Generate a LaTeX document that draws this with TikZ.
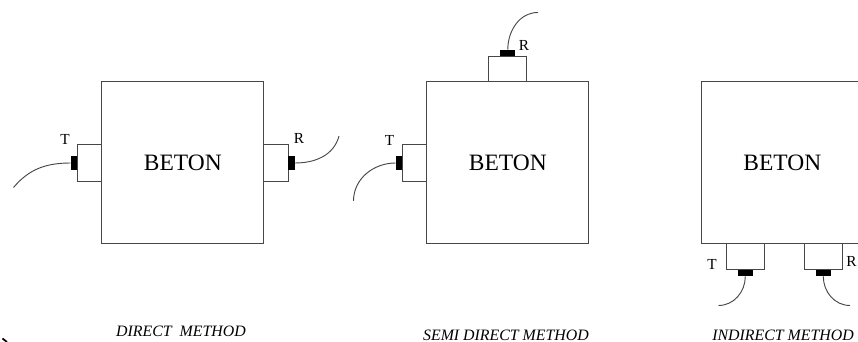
\documentclass[tikz,border=0pt]{standalone}
\usetikzlibrary{positioning}
\usepackage{fontspec}
\setmainfont{Liberation Serif}
\colorlet{wire}{black!72}
\tikzset{
    beton/.style={draw=wire,line width=0.75pt,inner sep=0pt,outer sep=0pt,minimum size=121.5pt,font=\fontsize{17.6}{20}\selectfont},
    stub/.style={draw=wire,line width=0.75pt,inner sep=0pt,outer sep=0pt},
    stubh/.style={stub,minimum width=18.4pt,minimum height=27.7pt},
    stubv/.style={stub,minimum width=28.5pt,minimum height=19.3pt},
    probe/.style={fill=black,inner sep=0pt,outer sep=0pt},
    probeh/.style={probe,minimum width=5pt,minimum height=11.2pt},
    probev/.style={probe,minimum width=11.2pt,minimum height=5pt},
    cable/.style={draw=wire,line width=0.7pt},
    letter/.style={inner sep=0pt,font=\fontsize{11.5}{13}\selectfont},
    method/.style={inner sep=0pt,font=\fontsize{11.9}{13}\selectfont\itshape}
}
\begin{document}
\begin{tikzpicture}[x=0.75pt,y=-0.75pt]
    \useasboundingbox (0,0) rectangle (858,342);
    \clip (0,0) rectangle (858,342);
    % direct
    \node[beton] (betona) at (182.8,163) {BETON};
    \node[stubh,left=0pt of betona] (senda) {};
    \node[stubh,right=0pt of betona] (recva) {};
    \node[probeh,left=0pt of senda] (tipta) {};
    \node[probeh,right=0pt of recva] (tipra) {};
    \coordinate (enda) at (13.5,187.5);
    \coordinate (endb) at (339,136);
    \draw[cable] (tipta.west) to[out=180,in=50] (enda);
    \draw[cable] (tipra.east) to[out=0,in=-105] (endb);
    \node[letter] (ta) at (65,139) {T};
    \node[letter] (ra) at (299,138) {R};
    \node[method] (capa) at (181,331) {DIRECT\ \ METHOD};
    % semi direct
    \node[beton] (betonb) at (507.8,163) {BETON};
    \node[stubh,left=0pt of betonb] (sendb) {};
    \node[stubv,above=0pt of betonb] (recvb) {};
    \node[probeh,left=0pt of sendb] (tiptb) {};
    \node[probev,above=0pt of recvb] (tiprb) {};
    \coordinate (endc) at (353.5,201);
    \coordinate (endd) at (538,12.5);
    \draw[cable] (tiptb.west) to[out=180,in=90] (endc);
    \draw[cable] (tiprb.north) to[out=90,in=180] (endd);
    \node[letter] (tb) at (389.5,140) {T};
    \node[letter] (rb) at (524,45) {R};
    \node[method] (capb) at (506,335) {SEMI DIRECT METHOD};
    % indirect
    \node[beton] (betonc) at (782.3,163) {BETON};
    \node[stubv,below=0pt of betonc,xshift=-27.75pt] (sendc) {};
    \node[stubv,below=0pt of betonc,xshift=30.75pt] (recvc) {};
    \node[probev,below=0pt of sendc] (tiptc) {};
    \node[probev,below=0pt of recvc] (tiprc) {};
    \coordinate (ende) at (718.5,305.5);
    \coordinate (endf) at (850,305.5);
    \draw[cable] (tiptc.south) to[out=-90,in=0] (ende);
    \draw[cable] (tiprc.south) to[out=-90,in=180] (endf);
    \node[letter] (tc) at (712,264) {T};
    \node[letter] (rc) at (851.5,261) {R};
    \node[method] (capc) at (783,335) {INDIRECT METHOD};
    % speck in the corner
    \coordinate (specka) at (2.5,338.5);
    \coordinate (speckb) at (7,342);
    \draw[line width=1.3pt] (specka) -- (speckb);
\end{tikzpicture}
\end{document}
